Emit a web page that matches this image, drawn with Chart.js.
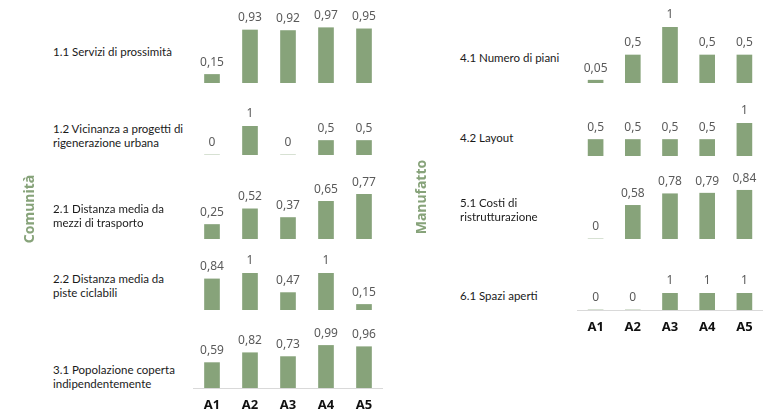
<!DOCTYPE html>
<html>
<head>
<meta charset="utf-8">
<script src="https://cdn.jsdelivr.net/npm/chart.js@4.4.0/dist/chart.umd.min.js"></script>
<style>
  body { margin: 0; background: #fff; }
  #wrap { position: relative; width: 773px; height: 414px; overflow: hidden; font-family: Lato, "Noto Sans", sans-serif; }
  canvas { position: absolute; }
  .lbl { position: absolute; font-size: 11.5px; line-height: 13.5px; color: #1a1a1a; white-space: nowrap; }
  .title { position: absolute; font-family: "Noto Sans", sans-serif; font-size: 14px; font-weight: 700; color: #87a37a; transform-origin: center; transform: translate(-50%, -50%) rotate(-90deg); white-space: nowrap; }
</style>
</head>
<body>
<div id="wrap"></div>
<script>
// categorie e valori
const categories = ['A1', 'A2', 'A3', 'A4', 'A5'];

const comunitaLabels = [
    ['1.1 Servizi di prossimità'],
    ['1.2 Vicinanza a progetti di', 'rigenerazione urbana'],
    ['2.1 Distanza media da', 'mezzi di trasporto'],
    ['2.2 Distanza media da', 'piste ciclabili'],
    ['3.1 Popolazione coperta', 'indipendentemente']
];
const comunitaValues = [
    [0.15, 0.93, 0.92, 0.97, 0.95],
    [0, 1, 0, 0.5, 0.5],
    [0.25, 0.52, 0.37, 0.65, 0.77],
    [0.84, 1, 0.47, 1, 0.15],
    [0.59, 0.82, 0.73, 0.99, 0.96]
];

const manufattoLabels = [
    ['4.1 Numero di piani'],
    ['4.2 Layout'],
    ['5.1 Costi di', 'ristrutturazione'],
    ['6.1 Spazi aperti']
];
const manufattoValues = [
    [0.05, 0.5, 1, 0.5, 0.5],
    [0.5, 0.5, 0.5, 0.5, 1],
    [0, 0.58, 0.78, 0.79, 0.84],
    [0, 0, 1, 1, 1]
];

// layout delle righe (posizioni in pixel)
const leftPanel = { axisLeft: 193, axisWidth: 190, labelX: 53, bottoms: [83, 155, 239, 310, 388], heights: [57, 29, 58, 37, 43], labelY: [52, 129, 209, 279, 370] };
const rightPanel = { axisLeft: 577, axisWidth: 186, labelX: 460, bottoms: [83, 156, 239, 310], heights: [56, 33, 58, 17], labelY: [58, 138, 203, 296] };

const BAR_COLOR = '#87a37a';
const TOP_PAD = 26;
const BOTTOM_PAD = 30;

const wrap = document.getElementById('wrap');

// plugin: etichette valori, linea base e categorie
const rowPlugin = {
    id: 'rowPlugin',
    afterDatasetsDraw(chart) {
        const ctx = chart.ctx;
        const meta = chart.getDatasetMeta(0);
        const values = chart.data.datasets[0].data;
        ctx.save();
        ctx.font = '12px "Noto Sans", sans-serif';
        ctx.fillStyle = '#5a5a5a';
        ctx.textAlign = 'center';
        ctx.textBaseline = 'middle';
        meta.data.forEach((bar, i) => {
            ctx.fillText(String(values[i]).replace('.', ','), bar.x, bar.y - 12);
        });
        if (chart.options.plugins.rowPlugin.last) {
            const area = chart.chartArea;
            ctx.strokeStyle = '#d9d9d9';
            ctx.lineWidth = 1;
            ctx.beginPath();
            ctx.moveTo(area.left, area.bottom + 0.5);
            ctx.lineTo(area.right, area.bottom + 0.5);
            ctx.stroke();
            ctx.font = 'bold 13px "Noto Sans", sans-serif';
            ctx.fillStyle = '#111';
            const xScale = chart.scales.x;
            categories.forEach((c, i) => {
                ctx.fillText(c, xScale.getPixelForValue(i), area.bottom + 17);
            });
        }
        ctx.restore();
    }
};

function addRow(panel, idx, values, label, isLast) {
    const h = panel.heights[idx];
    const canvas = document.createElement('canvas');
    const totalH = h + TOP_PAD + (isLast ? BOTTOM_PAD : 2);
    canvas.width = panel.axisWidth;
    canvas.height = totalH;
    canvas.style.left = panel.axisLeft + 'px';
    canvas.style.top = (panel.bottoms[idx] - h - TOP_PAD) + 'px';
    wrap.appendChild(canvas);

    new Chart(canvas.getContext('2d'), {
        type: 'bar',
        data: {
            labels: categories,
            datasets: [{
                data: values,
                backgroundColor: BAR_COLOR,
                borderWidth: 0,
                barThickness: 15
            }]
        },
        options: {
            responsive: false,
            animation: false,
            devicePixelRatio: 1,
            layout: { padding: { top: TOP_PAD, bottom: isLast ? BOTTOM_PAD : 2, left: 0, right: 0 } },
            scales: {
                x: { display: false, offset: true },
                y: { display: false, min: 0, max: 1 }
            },
            plugins: {
                legend: { display: false },
                tooltip: { enabled: false },
                rowPlugin: { last: isLast }
            }
        },
        plugins: [rowPlugin]
    });

    const div = document.createElement('div');
    div.className = 'lbl';
    div.style.left = panel.labelX + 'px';
    div.style.top = (panel.labelY[idx] - 7) + 'px';
    div.innerHTML = label.join('<br>');
    wrap.appendChild(div);
}

comunitaValues.forEach((v, i) => addRow(leftPanel, i, v, comunitaLabels[i], i === comunitaValues.length - 1));
manufattoValues.forEach((v, i) => addRow(rightPanel, i, v, manufattoLabels[i], i === manufattoValues.length - 1));

// titoli verticali
function addTitle(text, x, y) {
    const t = document.createElement('div');
    t.className = 'title';
    t.style.left = x + 'px';
    t.style.top = y + 'px';
    t.textContent = text;
    wrap.appendChild(t);
}
addTitle('Comunità', 28, 209);
addTitle('Manufatto', 420, 197);
</script>
</body>
</html>
